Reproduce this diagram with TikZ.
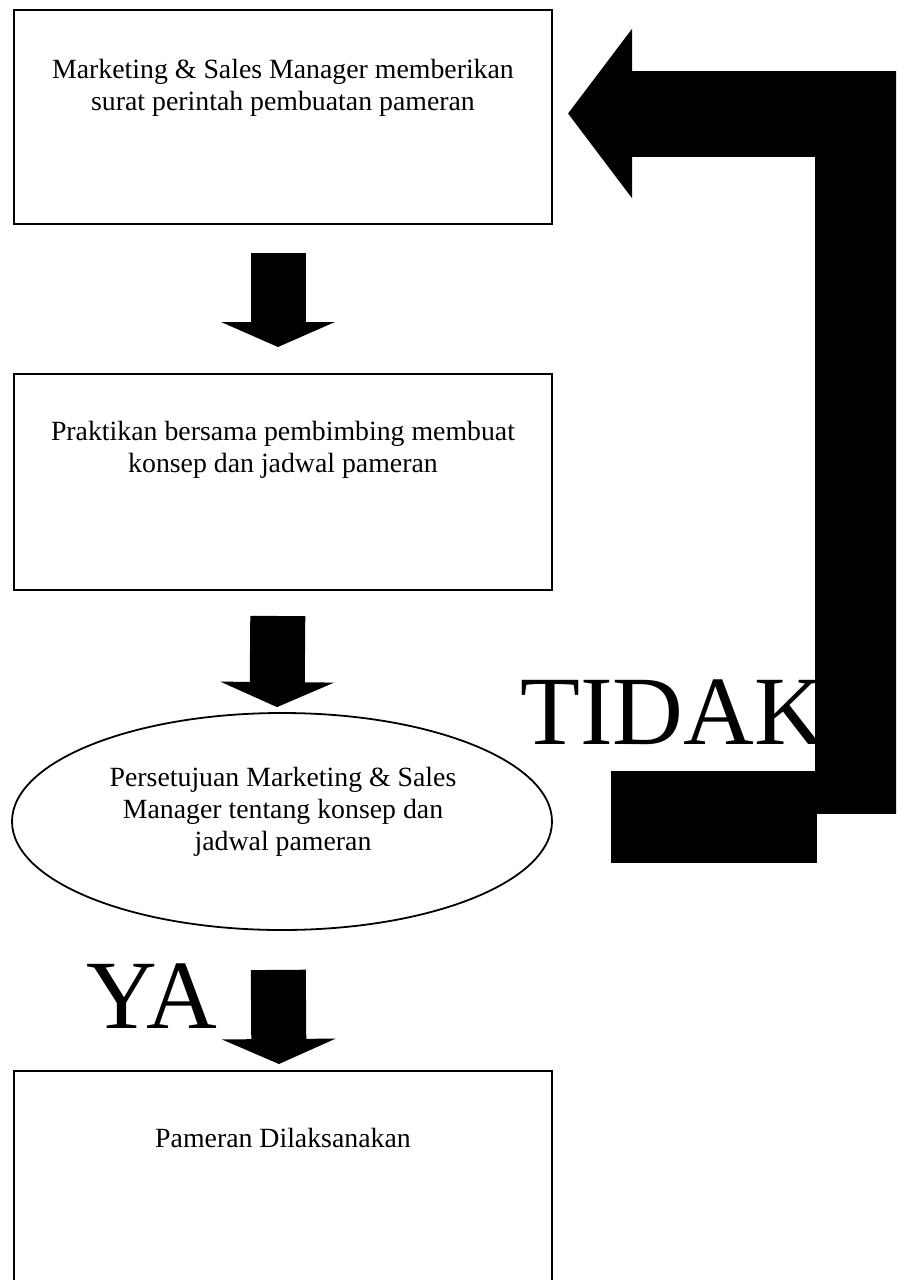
\documentclass[tikz,border=0pt]{standalone}
\usepackage{fontspec}
\setmainfont{Liberation Serif}
\usetikzlibrary{arrows.meta,shapes.geometric,positioning}
\tikzstyle{procbox}=[draw, line width=1pt, rectangle, minimum width=269pt, minimum height=107pt, inner sep=0pt]
\tikzstyle{decision}=[draw, line width=0.9pt, ellipse, minimum width=270pt, minimum height=108.5pt, inner sep=0pt]
\tikzstyle{boxtext}=[inner sep=0pt, anchor=north, align=center, font=\fontsize{13.9}{16}\selectfont]
\tikzstyle{bigtext}=[inner sep=0pt, anchor=base west, font=\fontsize{49}{50}\selectfont]
\tikzstyle{tailblock}=[fill=black, rectangle, minimum width=103pt, minimum height=46pt, inner sep=0pt]
\tikzstyle{flowArrow}=[line width=27.5pt, -{Triangle[length=12.5pt,width=56.5pt]}]
\tikzstyle{returnArrow}=[line width=43pt, -{Triangle[length=32pt,width=83pt]}]

\begin{document}
\begin{tikzpicture}[x=0.5pt, y=-0.5pt]
    \useasboundingbox (0,0) rectangle (896,1280);
    \clip (0,0) rectangle (896,1280);

    % boxes
    \node[procbox] (b1) at (283,117) {};
    \node[boxtext] (t1) at (283,59) {Marketing \& Sales Manager memberikan\\surat perintah pembuatan pameran};
    \node[procbox, minimum height=108pt] (b2) at (283,482) {};
    \node[boxtext] (t2) at (283,421) {Praktikan bersama pembimbing membuat\\konsep dan jadwal pameran};
    \node[decision] (d1) at (282,821.5) {};
    \node[boxtext] (t3) at (283,767) {Persetujuan Marketing \& Sales\\Manager tentang konsep dan\\jadwal pameran};
    \node[procbox, minimum height=109pt] (b3) at (283,1180) {};
    \node[boxtext] (t4) at (283,1128) {Pameran Dilaksanakan};

    % labels
    \node[bigtext] (no) at (520,744) {TIDAK};
    \node[bigtext] (yes) at (86,1028) {YA};

    % flow arrows
    \draw[flowArrow, shorten <=14pt, shorten >=13pt] ([xshift=-2.5pt]b1.south) -- ([xshift=-2.5pt]b2.north);
    \draw[flowArrow, shorten <=12.5pt, shorten >=2.5pt] ([xshift=-2.5pt]b2.south) -- ([xshift=-2.5pt]d1.north);
    \draw[flowArrow, shorten <=19.5pt, shorten >=3pt] ([xshift=-2pt]d1.south) -- ([xshift=-2pt]b3.north);

    % return arrow
    \node[tailblock] (tail) at (714,817) {};
    \coordinate (barfoot) at (858,814);
    \coordinate (bartop) at (858,113.5);
    \draw[returnArrow, shorten >=7.5pt] (barfoot) -- (bartop) -- (b1.east |- bartop);
\end{tikzpicture}
\end{document}
